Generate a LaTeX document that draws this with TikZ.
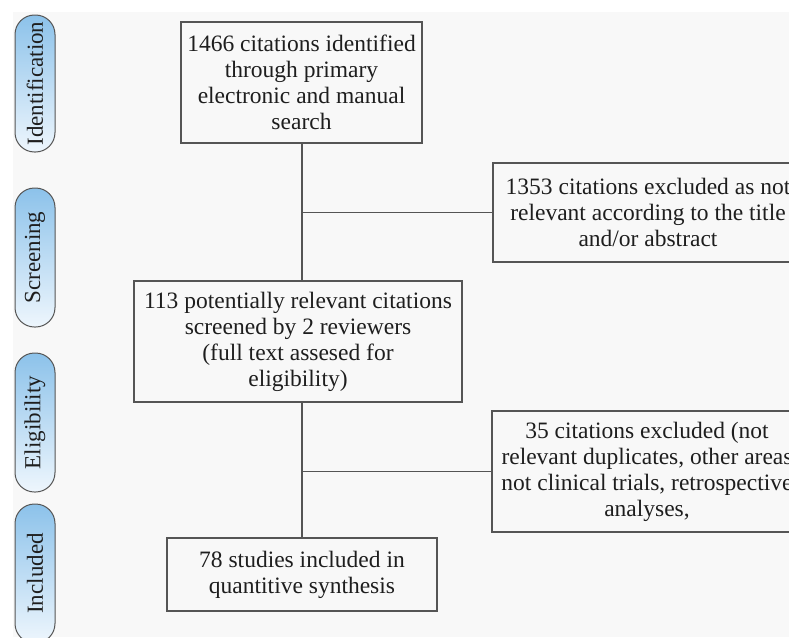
\documentclass[tikz,border=0pt]{standalone}
\usepackage{fontspec}
\setmainfont{Liberation Serif}
\usetikzlibrary{positioning}
\definecolor{bggrey}{HTML}{F8F8F8}
\definecolor{linegrey}{HTML}{555555}
\definecolor{txt}{HTML}{1E1E1E}
\definecolor{pilltop}{HTML}{8CC2EA}
\definecolor{pillbot}{HTML}{EEF6FD}
\tikzset{
  flowbox/.style={draw=linegrey, line width=1.2pt, rectangle, align=center, text=txt,
    font=\fontsize{23.5pt}{26pt}\selectfont, inner sep=0pt},
  pill/.style={draw=linegrey, line width=1pt, rectangle, rounded corners=19.5pt,
    top color=pilltop, bottom color=pillbot, minimum width=40pt, text=txt,
    font=\fontsize{23pt}{26pt}\selectfont, inner sep=0pt},
  conn/.style={draw=linegrey, line width=1.2pt}
}
\begin{document}
\begin{tikzpicture}[x=1pt, y=-1pt]
\useasboundingbox (0,0) rectangle (789,637);
\clip (0,0) rectangle (789,637);
\fill[white] (0,0) rectangle (789,637);
\fill[bggrey] (13,12) rectangle (789,637);

% stage pills
\node[pill, minimum height=137pt] (pid) at (35,83.5) {\rotatebox{90}{Identification}};
\node[pill, minimum height=139pt] (psc) at (35,257.5) {\rotatebox{90}{Screening}};
\node[pill, minimum height=139pt] (pel) at (35,422.5) {\rotatebox{90}{Eligibility}};
\node[pill, minimum height=139pt] (pin) at (35,573.5) {\rotatebox{90}{Included}};

% main boxes
\node[flowbox, minimum width=241pt, minimum height=121pt] (b1) at (301.5,82.5)
  {1466 citations identified\\through primary\\electronic and manual\\search};
\node[flowbox, minimum width=328pt, minimum height=121pt] (b2) at (298,341.5)
  {113 potentially relevant citations\\screened by 2 reviewers\\(full text assesed for\\eligibility)};
\node[flowbox, minimum width=270pt, minimum height=73pt] (b3) at (302,574.5)
  {78 studies included in\\quantitive synthesis};

% exclusion boxes
\node[flowbox, minimum width=310pt, minimum height=99pt] (r1) at (648,212.5)
  {1353 citations excluded as not\\relevant according to the title\\and/or abstract};
\node[flowbox, minimum width=310pt, minimum height=121pt] (r2) at (647,471.5)
  {35 citations excluded (not\\relevant duplicates, other areas\\not clinical trials, retrospective\\analyses,};

% connectors
\coordinate (t1) at (302,143);
\coordinate (t2) at (302,402);
\draw[conn] (t1) -- (t1 |- b2.north);
\draw[conn] (t2) -- (t2 |- b3.north);
\coordinate (j1) at (t1 |- r1.west);
\coordinate (j2) at (t2 |- r2.west);
\draw[conn] (j1) -- (r1.west);
\draw[conn] (j2) -- (r2.west);
\end{tikzpicture}
\end{document}
